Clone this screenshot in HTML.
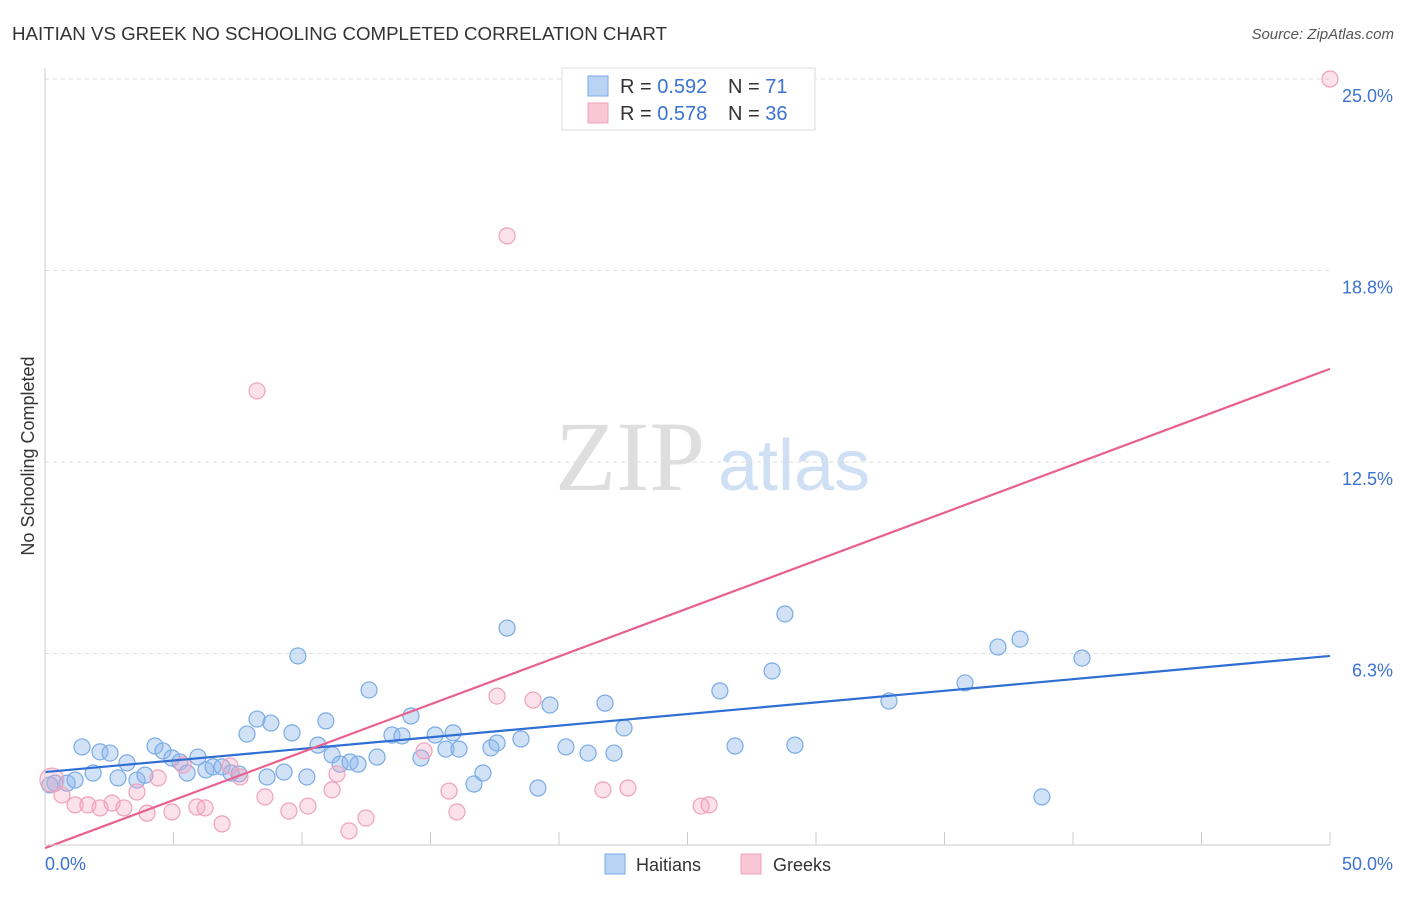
<!DOCTYPE html>
<html><head><meta charset="utf-8">
<style>
body{margin:0;background:#fff;font-family:"Liberation Sans",sans-serif;}
</style></head>
<body>
<svg id="chart" width="1406" height="892" xmlns="http://www.w3.org/2000/svg" font-family="Liberation Sans, sans-serif">
<text x="12" y="40" font-size="18" fill="#333" textLength="655" lengthAdjust="spacingAndGlyphs">HAITIAN VS GREEK NO SCHOOLING COMPLETED CORRELATION CHART</text>
<text x="1394" y="39" font-size="15" fill="#555" font-style="italic" text-anchor="end">Source: ZipAtlas.com</text>
<text transform="translate(34,456) rotate(-90)" font-size="18" fill="#333" text-anchor="middle">No Schooling Completed</text>
<text x="555" y="490" font-size="100" fill="#dedede" style="font-family:'Liberation Serif',serif">ZIP</text>
<text x="718" y="490" font-size="72" fill="#cfdff4">atlas</text>
<g id="grid"></g><g id="pts"></g><g id="lines"></g>
<line x1="45" y1="68" x2="45" y2="845" stroke="#ccc"/>
<line x1="45" y1="845" x2="1330" y2="845" stroke="#ccc"/>
<text x="45" y="870" font-size="18" fill="#3b73d1">0.0%</text>
<text x="1393" y="870" font-size="18" fill="#3b73d1" text-anchor="end">50.0%</text>
<g>
<rect x="562" y="68" width="253" height="62" fill="#fff" stroke="#ddd"/>
<rect x="588" y="76" width="20" height="20" fill="#b9d3f5" stroke="#7aaae6"/>
<rect x="588" y="103" width="20" height="20" fill="#f9c6d6" stroke="#f0a0bc"/>
<text x="620" y="93" font-size="20" fill="#333">R = <tspan fill="#3b73d1">0.592</tspan></text>
<text x="728" y="93" font-size="20" fill="#333">N = <tspan fill="#3b73d1"> 71</tspan></text>
<text x="620" y="120" font-size="20" fill="#333">R = <tspan fill="#3b73d1">0.578</tspan></text>
<text x="728" y="120" font-size="20" fill="#333">N = <tspan fill="#3b73d1">36</tspan></text>
</g>
<g><rect x="605" y="854" width="20" height="20" fill="#b9d3f5" stroke="#7aaae6"/><text x="636" y="871" font-size="18" fill="#333">Haitians</text></g>
<g><rect x="741" y="854" width="20" height="20" fill="#f9c6d6" stroke="#f0a0bc"/><text x="773" y="871" font-size="18" fill="#333">Greeks</text></g>
</svg>
<script>
const yTicks=[6.25,12.5,18.75,25];
const yTickLabels=["6.3%","12.5%","18.8%","25.0%"];
const xTicks=[0,5,10,15,20,25,30,35,40,45,50];
const haitianX=[0.39,0.86,1.17,1.44,1.87,2.14,2.53,2.84,3.19,3.58,3.89,4.28,4.59,4.94,5.25,5.53,5.95,6.26,6.54,6.89,7.24,7.55,7.86,8.25,8.64,8.79,9.30,9.61,9.84,10.19,10.62,10.93,11.17,11.48,11.87,12.18,12.61,12.92,13.50,13.89,14.24,14.63,15.18,15.60,15.88,16.11,16.69,17.04,17.35,17.59,17.98,18.52,19.18,19.65,20.27,21.13,21.79,22.14,22.53,26.26,26.85,28.29,28.79,29.18,32.84,35.80,37.08,37.94,38.79,40.35,0.19];
const haitianY=[2.02,2.02,2.12,3.20,2.35,3.04,3.00,2.19,2.68,2.12,2.28,3.23,3.07,2.84,2.71,2.35,2.87,2.45,2.55,2.55,2.35,2.32,3.62,4.11,2.22,3.98,2.38,3.66,6.17,2.22,3.26,4.05,2.94,2.64,2.71,2.64,5.06,2.87,3.59,3.56,4.21,2.84,3.59,3.13,3.66,3.13,1.99,2.35,3.17,3.33,7.08,3.46,1.86,4.57,3.20,3.00,4.63,3.00,3.82,5.03,3.23,5.68,7.54,3.26,4.70,5.29,6.46,6.72,1.57,6.10,1.96];
const greekX=[0.27,0.66,1.17,1.67,2.14,2.61,3.07,3.58,3.97,4.40,4.94,5.37,5.91,6.23,6.89,7.20,7.59,8.25,8.56,9.49,10.23,11.17,11.36,11.83,12.49,14.75,15.72,16.03,17.59,17.98,18.99,21.71,22.68,25.53,25.84,50.0];
const greekY=[2.12,1.63,1.31,1.31,1.21,1.37,1.21,1.73,1.04,2.19,1.08,2.61,1.24,1.21,0.69,2.58,2.22,14.82,1.57,1.11,1.27,1.80,2.32,0.46,0.88,3.07,1.76,1.08,4.86,19.88,4.73,1.80,1.86,1.27,1.31,25.0];
const haitianTrend=[2.38,6.17];
const greekTrend=[-0.1,15.54];
const NS="http://www.w3.org/2000/svg";
const sx=v=>45+v/50*1285;
const sy=v=>845-v/6.25*191.5;
function mk(tag,attrs,parent){const e=document.createElementNS(NS,tag);for(const k in attrs)e.setAttribute(k,attrs[k]);parent.appendChild(e);return e;}
const grid=document.getElementById('grid');
yTicks.forEach((t,i)=>{
 const l=mk('line',{x1:45,x2:1330,y1:sy(t),y2:sy(t),stroke:'#ddd','stroke-dasharray':'4,4'},grid);
 
 
 const tx=mk('text',{x:1393,y:sy(t)+23,'font-size':18,fill:'#3b73d1','text-anchor':'end'},grid);
 tx.textContent=yTickLabels[i];
 
 
});
xTicks.forEach(t=>{
 const l=mk('line',{x1:sx(t),x2:sx(t),y1:832,y2:845,stroke:'#ccc'},grid);
 
 
});
const pts=document.getElementById('pts');
haitianX.forEach((x,i)=>{
 const c=mk('circle',{cx:sx(x),cy:sy(haitianY[i]),r:8,fill:'rgba(140,182,236,0.4)',stroke:'#7aaae6','stroke-width':1.2},pts);
 
 
});
greekX.forEach((x,i)=>{
 const c=mk('circle',{cx:sx(x),cy:sy(greekY[i]),r:i==0?12:8,fill:'rgba(244,168,196,0.35)',stroke:'#f0a0bc','stroke-width':1.2},pts);
 
 
});
const lines=document.getElementById('lines');
const lb=mk('line',{x1:sx(0),y1:sy(haitianTrend[0]),x2:sx(50),y2:sy(haitianTrend[1]),stroke:'#2f6fd4','stroke-width':2.2},lines);


const lp=mk('line',{x1:sx(0),y1:sy(greekTrend[0]),x2:sx(50),y2:sy(greekTrend[1]),stroke:'#e8608f','stroke-width':2.2},lines);


</script>
</body></html>
